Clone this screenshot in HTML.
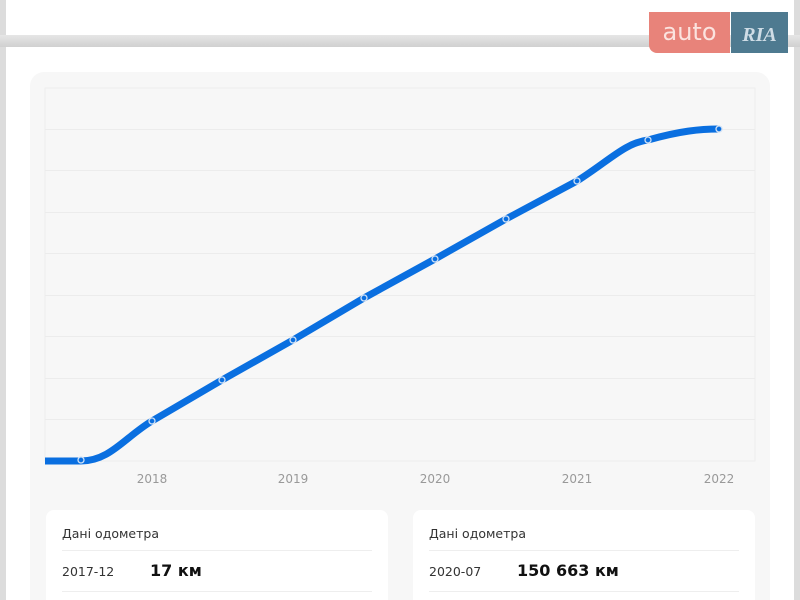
<!DOCTYPE html>
<html style="overflow:hidden"><head><meta charset="utf-8"><style>
html,body{margin:0;width:800px;height:600px;overflow:hidden}
body{background:#dcdcdc;font-family:"DejaVu Sans","Liberation Sans",sans-serif;position:relative}
.top{position:absolute;left:6px;top:0;width:788px;height:35px;background:#fff}
.band{position:absolute;left:0;top:35px;width:800px;height:12px;background:linear-gradient(#e6e6e6,#d0d0d0)}
.main{position:absolute;left:6px;top:47px;width:788px;height:553px;background:#fff}
.panel{position:absolute;left:30px;top:72px;width:740px;height:528px;background:#f7f7f7;border-radius:14px 14px 0 0}
.card{position:absolute;top:510px;width:342px;height:90px;background:#fff;border-radius:8px 8px 0 0}
.h{position:absolute;left:16px;top:16px;font-size:12.5px;color:#333}
.sep{position:absolute;left:16px;right:16px;height:1px;background:#eee}
.d{position:absolute;left:16px;top:54px;font-size:12.5px;color:#333}
.v{position:absolute;left:104px;top:51px;font-size:16px;font-weight:bold;color:#111}
</style></head><body>
<div class="top"></div><div class="band"></div><div class="main"></div>
<div class="panel"></div>
<div style="position:absolute;left:649px;top:12px;width:81px;height:41px;background:#e8837a;border-radius:0 0 0 8px;color:#fbe3df;font-size:24px;line-height:40px;text-align:center">auto</div>
<div style="position:absolute;left:731px;top:12px;width:57px;height:41px;background:#4e7a90;color:#cfdde6;font-family:'Liberation Serif',serif;font-weight:bold;font-style:italic;font-size:20px;line-height:46px;text-align:center">RIA</div>
<svg style="position:absolute;left:0;top:0" width="800" height="600">
<rect x="45" y="88" width="710" height="373" fill="#f7f7f7" stroke="#eeeeee"/>
<g stroke="#ececec" stroke-width="1">
<line x1="45" x2="755" y1="129.5" y2="129.5"/><line x1="45" x2="755" y1="170.5" y2="170.5"/><line x1="45" x2="755" y1="212.5" y2="212.5"/><line x1="45" x2="755" y1="253.5" y2="253.5"/><line x1="45" x2="755" y1="295.5" y2="295.5"/><line x1="45" x2="755" y1="336.5" y2="336.5"/><line x1="45" x2="755" y1="378.5" y2="378.5"/><line x1="45" x2="755" y1="419.5" y2="419.5"/>
</g>
<path d="M45 461 L81 461 C110 461 125 437 152 421 L222 380 L293 340 L364 298 L435 259 L506 219 L577 181 C610 160 625 143 648 140 C680 131 700 129 719 129" fill="none" stroke="#0a6fe0" stroke-width="7" stroke-linejoin="round"/>
<g fill="#0a6fe0" stroke="#cfe0f5" stroke-width="1.3">
<circle cx="81" cy="460" r="3"/><circle cx="152" cy="421" r="3"/><circle cx="222" cy="380" r="3"/><circle cx="293" cy="340" r="3"/><circle cx="364" cy="298" r="3"/><circle cx="435" cy="259" r="3"/><circle cx="506" cy="219" r="3"/><circle cx="577" cy="181" r="3"/><circle cx="648" cy="140" r="3"/><circle cx="719" cy="129" r="3"/>
</g>
<g font-family="DejaVu Sans, sans-serif" font-size="12" fill="#999" text-anchor="middle">
<text x="152" y="483">2018</text><text x="293" y="483">2019</text><text x="435" y="483">2020</text><text x="577" y="483">2021</text><text x="719" y="483">2022</text>
</g>
</svg>
<div class="card" style="left:46px"><div class="h">Дані одометра</div><div class="sep" style="top:40px"></div><div class="d">2017-12</div><div class="v">17 км</div><div class="sep" style="top:81px"></div></div>
<div class="card" style="left:413px"><div class="h">Дані одометра</div><div class="sep" style="top:40px"></div><div class="d">2020-07</div><div class="v">150 663 км</div><div class="sep" style="top:81px"></div></div>
</body></html>
